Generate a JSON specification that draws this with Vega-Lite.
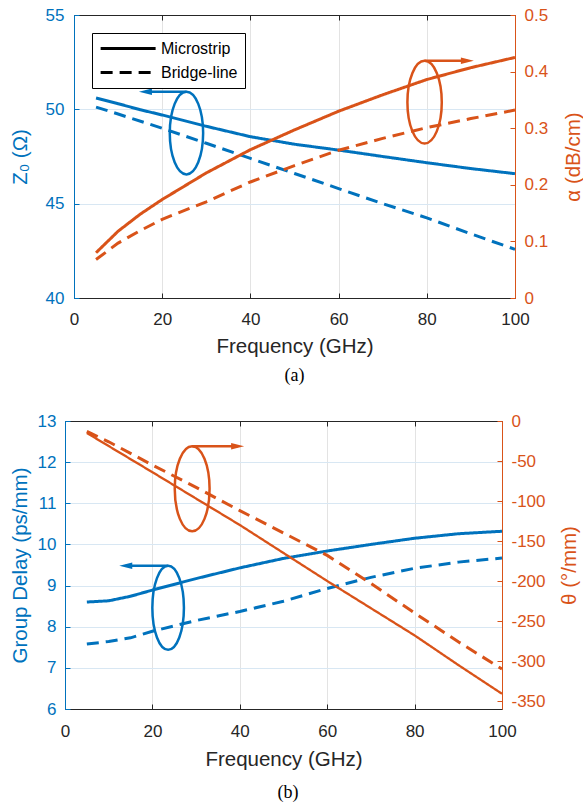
{
  "$schema": "https://vega.github.io/schema/vega-lite/v6.json",
  "padding": {"left": 10, "top": 6, "right": 0, "bottom": 0},
  "config": {
    "view": {"stroke": null},
    "font": "Liberation Sans",
    "axis": {"labelFont": "Liberation Sans", "titleFont": "Liberation Sans", "titleFontWeight": "normal", "domainWidth": 1, "tickWidth": 1, "labelFontSize": 17, "titleFontSize": 20.5, "tickSize": -5}
  },
  "spacing": 27,
  "resolve": {"scale": {"strokeDash": "independent", "strokeWidth": "independent"}, "legend": {"strokeDash": "independent"}},
  "datasets": {
    "top": [
      {"f": 5, "q": "Z0", "type": "Microstrip", "v": 50.6},
      {"f": 10, "q": "Z0", "type": "Microstrip", "v": 50.3},
      {"f": 15, "q": "Z0", "type": "Microstrip", "v": 49.98},
      {"f": 20, "q": "Z0", "type": "Microstrip", "v": 49.7},
      {"f": 30, "q": "Z0", "type": "Microstrip", "v": 49.1},
      {"f": 40, "q": "Z0", "type": "Microstrip", "v": 48.55},
      {"f": 50, "q": "Z0", "type": "Microstrip", "v": 48.15},
      {"f": 60, "q": "Z0", "type": "Microstrip", "v": 47.84},
      {"f": 70, "q": "Z0", "type": "Microstrip", "v": 47.5},
      {"f": 80, "q": "Z0", "type": "Microstrip", "v": 47.17},
      {"f": 90, "q": "Z0", "type": "Microstrip", "v": 46.86},
      {"f": 100, "q": "Z0", "type": "Microstrip", "v": 46.59},
      {"f": 5, "q": "Z0", "type": "Bridge-line", "v": 50.12},
      {"f": 10, "q": "Z0", "type": "Bridge-line", "v": 49.75},
      {"f": 20, "q": "Z0", "type": "Bridge-line", "v": 49.0},
      {"f": 30, "q": "Z0", "type": "Bridge-line", "v": 48.2},
      {"f": 40, "q": "Z0", "type": "Bridge-line", "v": 47.4},
      {"f": 50, "q": "Z0", "type": "Bridge-line", "v": 46.6},
      {"f": 60, "q": "Z0", "type": "Bridge-line", "v": 45.8},
      {"f": 70, "q": "Z0", "type": "Bridge-line", "v": 45.0},
      {"f": 80, "q": "Z0", "type": "Bridge-line", "v": 44.25},
      {"f": 90, "q": "Z0", "type": "Bridge-line", "v": 43.4},
      {"f": 100, "q": "Z0", "type": "Bridge-line", "v": 42.58},
      {"f": 5, "q": "alpha", "type": "Microstrip", "v": 0.08},
      {"f": 10, "q": "alpha", "type": "Microstrip", "v": 0.118},
      {"f": 15, "q": "alpha", "type": "Microstrip", "v": 0.148},
      {"f": 20, "q": "alpha", "type": "Microstrip", "v": 0.174},
      {"f": 30, "q": "alpha", "type": "Microstrip", "v": 0.221},
      {"f": 40, "q": "alpha", "type": "Microstrip", "v": 0.262},
      {"f": 50, "q": "alpha", "type": "Microstrip", "v": 0.297},
      {"f": 60, "q": "alpha", "type": "Microstrip", "v": 0.33},
      {"f": 70, "q": "alpha", "type": "Microstrip", "v": 0.359},
      {"f": 80, "q": "alpha", "type": "Microstrip", "v": 0.386},
      {"f": 90, "q": "alpha", "type": "Microstrip", "v": 0.407},
      {"f": 100, "q": "alpha", "type": "Microstrip", "v": 0.425},
      {"f": 5, "q": "alpha", "type": "Bridge-line", "v": 0.068},
      {"f": 10, "q": "alpha", "type": "Bridge-line", "v": 0.097},
      {"f": 15, "q": "alpha", "type": "Bridge-line", "v": 0.119},
      {"f": 20, "q": "alpha", "type": "Bridge-line", "v": 0.139},
      {"f": 30, "q": "alpha", "type": "Bridge-line", "v": 0.17},
      {"f": 40, "q": "alpha", "type": "Bridge-line", "v": 0.205},
      {"f": 50, "q": "alpha", "type": "Bridge-line", "v": 0.234},
      {"f": 60, "q": "alpha", "type": "Bridge-line", "v": 0.261},
      {"f": 70, "q": "alpha", "type": "Bridge-line", "v": 0.282},
      {"f": 80, "q": "alpha", "type": "Bridge-line", "v": 0.301},
      {"f": 90, "q": "alpha", "type": "Bridge-line", "v": 0.317},
      {"f": 100, "q": "alpha", "type": "Bridge-line", "v": 0.332}
    ],
    "bot": [
      {"f": 5, "q": "GD", "type": "Microstrip", "v": 8.6},
      {"f": 10, "q": "GD", "type": "Microstrip", "v": 8.63},
      {"f": 15, "q": "GD", "type": "Microstrip", "v": 8.74},
      {"f": 20, "q": "GD", "type": "Microstrip", "v": 8.89},
      {"f": 30, "q": "GD", "type": "Microstrip", "v": 9.17},
      {"f": 40, "q": "GD", "type": "Microstrip", "v": 9.43},
      {"f": 50, "q": "GD", "type": "Microstrip", "v": 9.66},
      {"f": 60, "q": "GD", "type": "Microstrip", "v": 9.84},
      {"f": 70, "q": "GD", "type": "Microstrip", "v": 10.0},
      {"f": 80, "q": "GD", "type": "Microstrip", "v": 10.15},
      {"f": 90, "q": "GD", "type": "Microstrip", "v": 10.26},
      {"f": 100, "q": "GD", "type": "Microstrip", "v": 10.32},
      {"f": 5, "q": "GD", "type": "Bridge-line", "v": 7.58},
      {"f": 10, "q": "GD", "type": "Bridge-line", "v": 7.64},
      {"f": 15, "q": "GD", "type": "Bridge-line", "v": 7.73},
      {"f": 20, "q": "GD", "type": "Bridge-line", "v": 7.89},
      {"f": 30, "q": "GD", "type": "Bridge-line", "v": 8.15},
      {"f": 40, "q": "GD", "type": "Bridge-line", "v": 8.37},
      {"f": 50, "q": "GD", "type": "Bridge-line", "v": 8.62},
      {"f": 60, "q": "GD", "type": "Bridge-line", "v": 8.93},
      {"f": 70, "q": "GD", "type": "Bridge-line", "v": 9.2},
      {"f": 80, "q": "GD", "type": "Bridge-line", "v": 9.42},
      {"f": 90, "q": "GD", "type": "Bridge-line", "v": 9.57},
      {"f": 100, "q": "GD", "type": "Bridge-line", "v": 9.67},
      {"f": 5, "q": "theta", "type": "Microstrip", "v": -15},
      {"f": 20, "q": "theta", "type": "Microstrip", "v": -64},
      {"f": 30, "q": "theta", "type": "Microstrip", "v": -97},
      {"f": 40, "q": "theta", "type": "Microstrip", "v": -130},
      {"f": 50, "q": "theta", "type": "Microstrip", "v": -165},
      {"f": 60, "q": "theta", "type": "Microstrip", "v": -200},
      {"f": 70, "q": "theta", "type": "Microstrip", "v": -234},
      {"f": 80, "q": "theta", "type": "Microstrip", "v": -268},
      {"f": 90, "q": "theta", "type": "Microstrip", "v": -305},
      {"f": 100, "q": "theta", "type": "Microstrip", "v": -341},
      {"f": 5, "q": "theta", "type": "Bridge-line", "v": -13},
      {"f": 10, "q": "theta", "type": "Bridge-line", "v": -26},
      {"f": 20, "q": "theta", "type": "Bridge-line", "v": -55},
      {"f": 30, "q": "theta", "type": "Bridge-line", "v": -83},
      {"f": 40, "q": "theta", "type": "Bridge-line", "v": -112},
      {"f": 50, "q": "theta", "type": "Bridge-line", "v": -140},
      {"f": 60, "q": "theta", "type": "Bridge-line", "v": -168},
      {"f": 70, "q": "theta", "type": "Bridge-line", "v": -203},
      {"f": 80, "q": "theta", "type": "Bridge-line", "v": -240},
      {"f": 90, "q": "theta", "type": "Bridge-line", "v": -276},
      {"f": 100, "q": "theta", "type": "Bridge-line", "v": -310}
    ],
    "ann": [
      {"q": "Z0", "kind": "ellipse", "f": 25.5, "v": 48.74},
      {"q": "Z0", "kind": "arrow", "f": 25.5, "f2": 16.2, "v": 50.93},
      {"q": "Z0", "kind": "head", "f": 16.2, "v": 50.93},
      {"q": "alpha", "kind": "ellipse", "f": 79.5, "v": 0.346},
      {"q": "alpha", "kind": "arrow", "f": 79.5, "f2": 89.2, "v": 0.419},
      {"q": "alpha", "kind": "head", "f": 89.2, "v": 0.419},
      {"q": "GD", "kind": "ellipse", "f": 23.6, "v": 8.46},
      {"q": "GD", "kind": "arrow", "f": 23.6, "f2": 13.9, "v": 9.48},
      {"q": "GD", "kind": "head", "f": 13.9, "v": 9.48},
      {"q": "theta", "kind": "ellipse", "f": 29.1, "v": -84.8},
      {"q": "theta", "kind": "arrow", "f": 29.1, "f2": 39.5, "v": -31.6},
      {"q": "theta", "kind": "head", "f": 39.5, "v": -31.6}
    ]
  },
  "vconcat": [
    {
      "width": 441,
      "height": 283,
      "title": {"text": "(a)", "orient": "bottom", "font": "Liberation Serif", "fontSize": 18, "fontWeight": "normal", "color": "black", "offset": 10},
      "resolve": {"scale": {"y": "independent"}, "axis": {"x": "independent"}},
      "layer": [
        {
          "encoding": {
            "x": {"field": "f", "type": "quantitative", "scale": {"domain": [0, 100], "nice": false, "zero": false},
              "axis": {"orient": "bottom", "title": "Frequency (GHz)", "values": [0, 20, 40, 60, 80, 100], "grid": true, "gridColor": "#e3e3e3", "domainColor": "#262626", "tickColor": "#262626", "labelColor": "#262626", "titleColor": "#262626", "labelPadding": 18.5, "titlePadding": 9, "labelFlush": false}},
            "y": {"field": "v", "type": "quantitative", "scale": {"domain": [40, 55], "nice": false, "zero": false},
              "axis": {"orient": "left", "title": "Z₀ (Ω)", "values": [40, 45, 50, 55], "grid": true, "gridColor": "#d8e7f3", "domainColor": "#0072BD", "tickColor": "#0072BD", "labelColor": "#0072BD", "titleColor": "#0072BD", "labelPadding": 15, "titlePadding": 15}}
          },
          "layer": [
            {
              "data": {"name": "top"},
              "transform": [{"filter": "datum.q === 'Z0'"}],
              "mark": {"type": "line", "color": "#0072BD", "strokeWidth": 3},
              "encoding": {
                "strokeDash": {"field": "type", "type": "nominal", "scale": {"domain": ["Microstrip", "Bridge-line"], "range": [[1, 0], [12, 7]]},
                  "legend": {"title": null, "orient": "top-left", "offset": 18, "symbolType": "M-1,0H7", "symbolSize": 189, "symbolStrokeWidth": 3, "symbolStrokeColor": "black", "labelFontSize": 16, "labelColor": "black", "labelFont": "Liberation Sans", "strokeColor": "black", "fillColor": "white", "padding": 7, "rowPadding": 7, "labelOffset": 45, "labelLimit": 300,
                    "encode": {"symbols": {"update": {"stroke": {"value": "black"}}}}}}
              }
            },
            {
              "data": {"name": "ann"},
              "transform": [{"filter": "datum.q === 'Z0' && datum.kind === 'ellipse'"}],
              "mark": {"type": "point", "shape": "M0,-1C0.2231,-1 0.404,-0.5523 0.404,0C0.404,0.5523 0.2231,1 0,1C-0.2231,1 -0.404,0.5523 -0.404,0C-0.404,-0.5523 -0.2231,-1 0,-1Z", "size": 6823, "filled": false, "stroke": "#0072BD", "strokeWidth": 2.5, "opacity": 1}
            },
            {
              "data": {"name": "ann"},
              "transform": [{"filter": "datum.q === 'Z0' && datum.kind === 'arrow'"}],
              "mark": {"type": "rule", "color": "#0072BD", "strokeWidth": 2.5},
              "encoding": {"x2": {"field": "f2"}}
            },
            {
              "data": {"name": "ann"},
              "transform": [{"filter": "datum.q === 'Z0' && datum.kind === 'head'"}],
              "mark": {"type": "point", "shape": "M-1,0L1,-0.5L1,0.5Z", "size": 170, "filled": true, "color": "#0072BD", "opacity": 1}
            }
          ]
        },
        {
          "encoding": {
            "x": {"field": "f", "type": "quantitative", "scale": {"domain": [0, 100], "nice": false, "zero": false},
              "axis": {"orient": "top", "title": null, "labels": false, "values": [0, 20, 40, 60, 80, 100], "grid": false, "domainColor": "#262626", "tickColor": "#262626"}},
            "y": {"field": "v", "type": "quantitative", "scale": {"domain": [0, 0.5], "nice": false, "zero": false},
              "axis": {"orient": "right", "title": "α (dB/cm)", "values": [0, 0.1, 0.2, 0.3, 0.4, 0.5], "labelExpr": "toString(datum.value)", "grid": false, "domainColor": "#D95319", "tickColor": "#D95319", "labelColor": "#D95319", "titleColor": "#D95319", "labelPadding": 14, "titlePadding": 16, "titleAngle": 270, "titleBaseline": "top"}}
          },
          "layer": [
            {
              "data": {"name": "top"},
              "transform": [{"filter": "datum.q === 'alpha'"}],
              "mark": {"type": "line", "color": "#D95319", "strokeWidth": 3},
              "encoding": {
                "strokeDash": {"field": "type", "type": "nominal", "scale": {"domain": ["Microstrip", "Bridge-line"], "range": [[1, 0], [12, 7]]},
                  "legend": {"title": null, "orient": "top-left", "offset": 18, "symbolType": "M-1,0H7", "symbolSize": 189, "symbolStrokeWidth": 3, "symbolStrokeColor": "black", "labelFontSize": 16, "labelColor": "black", "labelFont": "Liberation Sans", "strokeColor": "black", "fillColor": "white", "padding": 7, "rowPadding": 7, "labelOffset": 45, "labelLimit": 300,
                    "encode": {"symbols": {"update": {"stroke": {"value": "black"}}}}}}
              }
            },
            {
              "data": {"name": "ann"},
              "transform": [{"filter": "datum.q === 'alpha' && datum.kind === 'ellipse'"}],
              "mark": {"type": "point", "shape": "M0,-1C0.2298,-1 0.416,-0.5523 0.416,0C0.416,0.5523 0.2298,1 0,1C-0.2298,1 -0.416,0.5523 -0.416,0C-0.416,-0.5523 -0.2298,-1 0,-1Z", "size": 6823, "filled": false, "stroke": "#D95319", "strokeWidth": 2.5, "opacity": 1}
            },
            {
              "data": {"name": "ann"},
              "transform": [{"filter": "datum.q === 'alpha' && datum.kind === 'arrow'"}],
              "mark": {"type": "rule", "color": "#D95319", "strokeWidth": 2.5},
              "encoding": {"x2": {"field": "f2"}}
            },
            {
              "data": {"name": "ann"},
              "transform": [{"filter": "datum.q === 'alpha' && datum.kind === 'head'"}],
              "mark": {"type": "point", "shape": "M1,0L-1,-0.5L-1,0.5Z", "size": 170, "filled": true, "color": "#D95319", "opacity": 1}
            }
          ]
        }
      ]
    },
    {
      "width": 428,
      "height": 288,
      "title": {"text": "(b)", "orient": "bottom", "font": "Liberation Serif", "fontSize": 18, "fontWeight": "normal", "color": "black", "offset": 14},
      "resolve": {"scale": {"y": "independent"}, "axis": {"x": "independent"}},
      "layer": [
        {
          "encoding": {
            "x": {"field": "f", "type": "quantitative", "scale": {"domain": [0, 100], "range": [-9, 428], "nice": false, "zero": false},
              "axis": {"orient": "bottom", "title": "Frequency (GHz)", "values": [0, 20, 40, 60, 80, 100], "grid": true, "gridColor": "#e3e3e3", "domainColor": "#262626", "tickColor": "#262626", "labelColor": "#262626", "titleColor": "#262626", "labelPadding": 19, "titlePadding": 10, "labelFlush": false}},
            "y": {"field": "v", "type": "quantitative", "scale": {"domain": [6, 13], "nice": false, "zero": false},
              "axis": {"orient": "left", "offset": 9, "title": "Group Delay (ps/mm)", "values": [6, 7, 8, 9, 10, 11, 12, 13], "grid": true, "gridColor": "#d8e7f3", "domainColor": "#0072BD", "tickColor": "#0072BD", "labelColor": "#0072BD", "titleColor": "#0072BD", "labelPadding": 14, "titlePadding": 7}}
          },
          "layer": [
            {
              "data": {"name": "bot"},
              "transform": [{"filter": "datum.q === 'GD'"}],
              "mark": {"type": "line", "color": "#0072BD", "strokeWidth": 3},
              "encoding": {
                "strokeDash": {"field": "type", "type": "nominal", "scale": {"domain": ["Microstrip", "Bridge-line"], "range": [[1, 0], [12, 7]]}, "legend": null}
              }
            },
            {
              "data": {"name": "ann"},
              "transform": [{"filter": "datum.q === 'GD' && datum.kind === 'ellipse'"}],
              "mark": {"type": "point", "shape": "M0,-1C0.2077,-1 0.376,-0.5523 0.376,0C0.376,0.5523 0.2077,1 0,1C-0.2077,1 -0.376,0.5523 -0.376,0C-0.376,-0.5523 -0.2077,-1 0,-1Z", "size": 7056, "filled": false, "stroke": "#0072BD", "strokeWidth": 2.5, "opacity": 1}
            },
            {
              "data": {"name": "ann"},
              "transform": [{"filter": "datum.q === 'GD' && datum.kind === 'arrow'"}],
              "mark": {"type": "rule", "color": "#0072BD", "strokeWidth": 2.5},
              "encoding": {"x2": {"field": "f2"}}
            },
            {
              "data": {"name": "ann"},
              "transform": [{"filter": "datum.q === 'GD' && datum.kind === 'head'"}],
              "mark": {"type": "point", "shape": "M-1,0L1,-0.5L1,0.5Z", "size": 170, "filled": true, "color": "#0072BD", "opacity": 1}
            }
          ]
        },
        {
          "encoding": {
            "x": {"field": "f", "type": "quantitative", "scale": {"domain": [0, 100], "range": [-9, 428], "nice": false, "zero": false},
              "axis": {"orient": "top", "title": null, "labels": false, "values": [0, 20, 40, 60, 80, 100], "grid": false, "domainColor": "#262626", "tickColor": "#262626"}},
            "y": {"field": "v", "type": "quantitative", "scale": {"domain": [-360, 0], "nice": false, "zero": false},
              "axis": {"orient": "right", "title": "θ (°/mm)", "values": [-350, -300, -250, -200, -150, -100, -50, 0], "labelExpr": "toString(datum.value)", "grid": false, "domainColor": "#D95319", "tickColor": "#D95319", "labelColor": "#D95319", "titleColor": "#D95319", "labelPadding": 14, "titlePadding": 14, "titleAngle": 270, "titleBaseline": "top"}}
          },
          "layer": [
            {
              "data": {"name": "bot"},
              "transform": [{"filter": "datum.q === 'theta'"}],
              "mark": {"type": "line", "color": "#D95319"},
              "encoding": {
                "strokeDash": {"field": "type", "type": "nominal", "scale": {"domain": ["Microstrip", "Bridge-line"], "range": [[1, 0], [12, 7]]}, "legend": null},
                "strokeWidth": {"field": "type", "type": "nominal", "scale": {"domain": ["Microstrip", "Bridge-line"], "range": [2.3, 3]}, "legend": null}
              }
            },
            {
              "data": {"name": "ann"},
              "transform": [{"filter": "datum.q === 'theta' && datum.kind === 'ellipse'"}],
              "mark": {"type": "point", "shape": "M0,-1C0.2264,-1 0.41,-0.5523 0.41,0C0.41,0.5523 0.2264,1 0,1C-0.2264,1 -0.41,0.5523 -0.41,0C-0.41,-0.5523 -0.2264,-1 0,-1Z", "size": 7225, "filled": false, "stroke": "#D95319", "strokeWidth": 2.5, "opacity": 1}
            },
            {
              "data": {"name": "ann"},
              "transform": [{"filter": "datum.q === 'theta' && datum.kind === 'arrow'"}],
              "mark": {"type": "rule", "color": "#D95319", "strokeWidth": 2.5},
              "encoding": {"x2": {"field": "f2"}}
            },
            {
              "data": {"name": "ann"},
              "transform": [{"filter": "datum.q === 'theta' && datum.kind === 'head'"}],
              "mark": {"type": "point", "shape": "M1,0L-1,-0.5L-1,0.5Z", "size": 170, "filled": true, "color": "#D95319", "opacity": 1}
            }
          ]
        }
      ]
    }
  ]
}
